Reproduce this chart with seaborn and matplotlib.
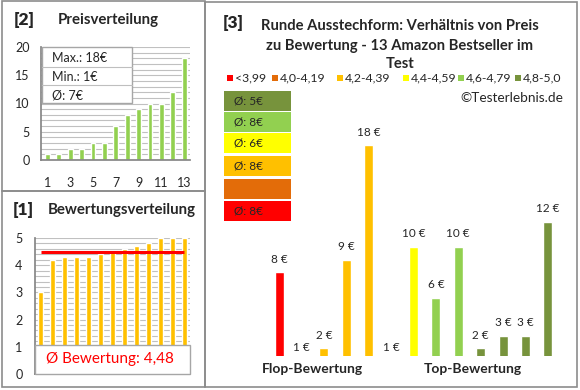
import matplotlib
matplotlib.use('Agg')
import matplotlib.pyplot as plt
import matplotlib.ticker as mticker
from matplotlib.patches import Rectangle
import seaborn as sns

# Daten
preise = [8, 1, 2, 9, 18, 1, 10, 6, 10, 2, 3, 3, 12]
bewertungen = [3.0, 4.2, 4.3, 4.3, 4.3, 4.4, 4.5, 4.6, 4.7, 4.8, 5.0, 5.0, 5.0]
preise_sortiert = sorted(preise)
bewertung_schnitt = 4.48

klassen = ['<3,99', '4,0-4,19', '4,2-4,39', '4,4-4,59', '4,6-4,79', '4,8-5,0']
klassen_grenzen = [3.995, 4.195, 4.395, 4.595, 4.795, 5.01]
klassen_farben = ['#FF0000', '#E36C09', '#FFC000', '#FFFF00', '#92D050', '#77933C']
schnitt_labels = ['Ø: 8€', '', 'Ø: 8€', 'Ø: 6€', 'Ø: 8€', 'Ø: 5€']

sns.set_theme(style='white')
plt.rcParams['font.family'] = ['Lato', 'DejaVu Sans']

W, H = 580, 390
fig = plt.figure(figsize=(5.8, 3.9), dpi=100)
fig.patch.set_facecolor('white')


def box(l, t, r, b):
    return [l / W, 1 - b / H, (r - l) / W, (b - t) / H]


def ftext(x, y, s, **kw):
    kw.setdefault('va', 'center')
    fig.text(x / W, 1 - y / H, s, **kw)


def frect(l, t, r, b, **kw):
    fig.add_artist(Rectangle((l / W, 1 - b / H), (r - l) / W, (b - t) / H,
                             transform=fig.transFigure, **kw))


# Rahmen der drei Bereiche
rahmen = dict(fill=False, edgecolor='#8C8C8C', linewidth=1.2, zorder=10)
frect(1.5, 1.5, 205, 191, **rahmen)
frect(1.5, 191, 205, 387, **rahmen)
frect(205, 1.5, 577, 387, **rahmen)

gitter = '#C0C0C0'
achse = '#868686'

# [2] Preisverteilung
ax1 = fig.add_axes(box(41, 47, 190, 160))
sns.barplot(x=list(range(1, 14)), y=preise_sortiert, color='#92D050',
            width=0.42, saturation=1, ax=ax1)
ax1.set_ylim(0, 20)
ax1.set_xlim(-0.55, 12.5)
ax1.set_yticks(range(0, 21, 5))
ax1.yaxis.set_minor_locator(mticker.MultipleLocator(1))
ax1.grid(True, which='both', axis='y', color=gitter, linewidth=0.8)
ax1.set_axisbelow(True)
ax1.set_xticks(range(0, 13, 2))
ax1.set_xticklabels([str(i) for i in range(1, 14, 2)])
ax1.tick_params(axis='x', length=0, pad=12, labelsize=9)
ax1.tick_params(axis='y', length=0, pad=8, labelsize=9)
for s in ['top', 'right']:
    ax1.spines[s].set_visible(False)
for s in ['left', 'bottom']:
    ax1.spines[s].set_color(achse)
ax1.set_xlabel('')
ax1.set_ylabel('')

ftext(14, 20, '[2]', fontsize=12.5, fontweight='heavy')
ftext(58, 20, 'Preisverteilung', fontsize=10.8, fontweight='bold')

frect(42, 47, 132, 103, facecolor='white', edgecolor='#A6A6A6', linewidth=1, zorder=5)
fig.add_artist(plt.Line2D([42 / W, 132 / W], [1 - 67 / H, 1 - 67 / H],
                          transform=fig.transFigure, color='#BFBFBF', lw=0.8, zorder=6))
fig.add_artist(plt.Line2D([42 / W, 132 / W], [1 - 85 / H, 1 - 85 / H],
                          transform=fig.transFigure, color='#BFBFBF', lw=0.8, zorder=6))
ftext(52, 58, f'Max.: {max(preise)}€', fontsize=9, zorder=7)
ftext(52, 77, f'Min.: {min(preise)}€', fontsize=9, zorder=7)
ftext(52, 95, f'Ø: {round(sum(preise) / len(preise))}€', fontsize=9, zorder=7)

# [1] Bewertungsverteilung
ax2 = fig.add_axes(box(35, 238, 190, 374))
sns.barplot(x=list(range(1, 14)), y=bewertungen, color='#FFC000',
            width=0.42, saturation=1, ax=ax2)
ax2.hlines(bewertung_schnitt, 0, 12, color='#FF0000', linewidth=2.2, zorder=4)
ax2.set_ylim(0, 5)
ax2.set_xlim(-0.5, 12.5)
ax2.set_yticks(range(0, 6))
ax2.yaxis.set_minor_locator(mticker.MultipleLocator(0.2))
ax2.grid(True, which='both', axis='y', color=gitter, linewidth=0.8)
ax2.set_axisbelow(True)
ax2.set_xticks([])
ax2.tick_params(axis='y', length=0, pad=9, labelsize=9)
for s in ['top', 'right']:
    ax2.spines[s].set_visible(False)
for s in ['left', 'bottom']:
    ax2.spines[s].set_color(achse)
ax2.set_xlabel('')
ax2.set_ylabel('')

ftext(13, 210, '[1]', fontsize=12.5, fontweight='heavy')
ftext(48, 210, 'Bewertungsverteilung', fontsize=10.8, fontweight='bold')

frect(35, 345, 190, 374, facecolor='white', edgecolor='#A6A6A6', linewidth=1, zorder=5)
ftext(110, 359, f'Ø Bewertung: {bewertung_schnitt:.2f}'.replace('.', ','),
      fontsize=11, color='#FF0000', ha='center', zorder=7)

# [3] Preis vs. Bewertung


def klasse(b):
    for i, g in enumerate(klassen_grenzen):
        if b < g:
            return i
    return len(klassen) - 1


farben = [klassen_farben[klasse(b)] for b in bewertungen]

ax3 = fig.add_axes(box(268, 120, 559, 356))
sns.barplot(x=list(range(13)), y=preise, hue=list(range(13)), palette=farben,
            legend=False, width=0.4, saturation=1, ax=ax3)
unten = 1.4
ax3.set_ylim(unten, 20)
ax3.set_xlim(-0.5, 12.5)
ax3.axis('off')
for i, v in enumerate(preise):
    ax3.annotate(f'{v} €', xy=(i, max(v, unten)),
                 xytext=(0, 9.5 if v > unten else 6), textcoords='offset points',
                 ha='center', va='center', fontsize=8.5)

ftext(223, 23, '[3]', fontsize=12.5, fontweight='heavy')
ftext(400, 26, 'Runde Ausstechform: Verhältnis von Preis', fontsize=10.6, fontweight='bold', ha='center')
ftext(400, 46, 'zu Bewertung - 13 Amazon Bestseller im', fontsize=10.6, fontweight='bold', ha='center')
ftext(400, 64, 'Test', fontsize=10.6, fontweight='bold', ha='center')

leg_x = [227, 272, 337, 403, 458, 515]
for x, lab, col in zip(leg_x, klassen, klassen_farben):
    frect(x, 75, x + 5.5, 80.5, facecolor=col, edgecolor='none')
    ftext(x + 8, 78, lab, fontsize=8.8)

ftext(563, 98, '©Testerlebnis.de', fontsize=9.8, ha='right')

box_tops = [91, 112, 133, 156, 179, 201]
for top, col, lab in zip(box_tops, klassen_farben[::-1], schnitt_labels[::-1]):
    frect(224, top, 291, top + 20, facecolor=col, edgecolor='none')
    if lab:
        ftext(234, top + 10, lab, fontsize=8.5)

ftext(312, 369, 'Flop-Bewertung', fontsize=10, fontweight='bold', ha='center')
ftext(473, 369, 'Top-Bewertung', fontsize=10, fontweight='bold', ha='center')

fig.savefig('out.png', dpi=100)
